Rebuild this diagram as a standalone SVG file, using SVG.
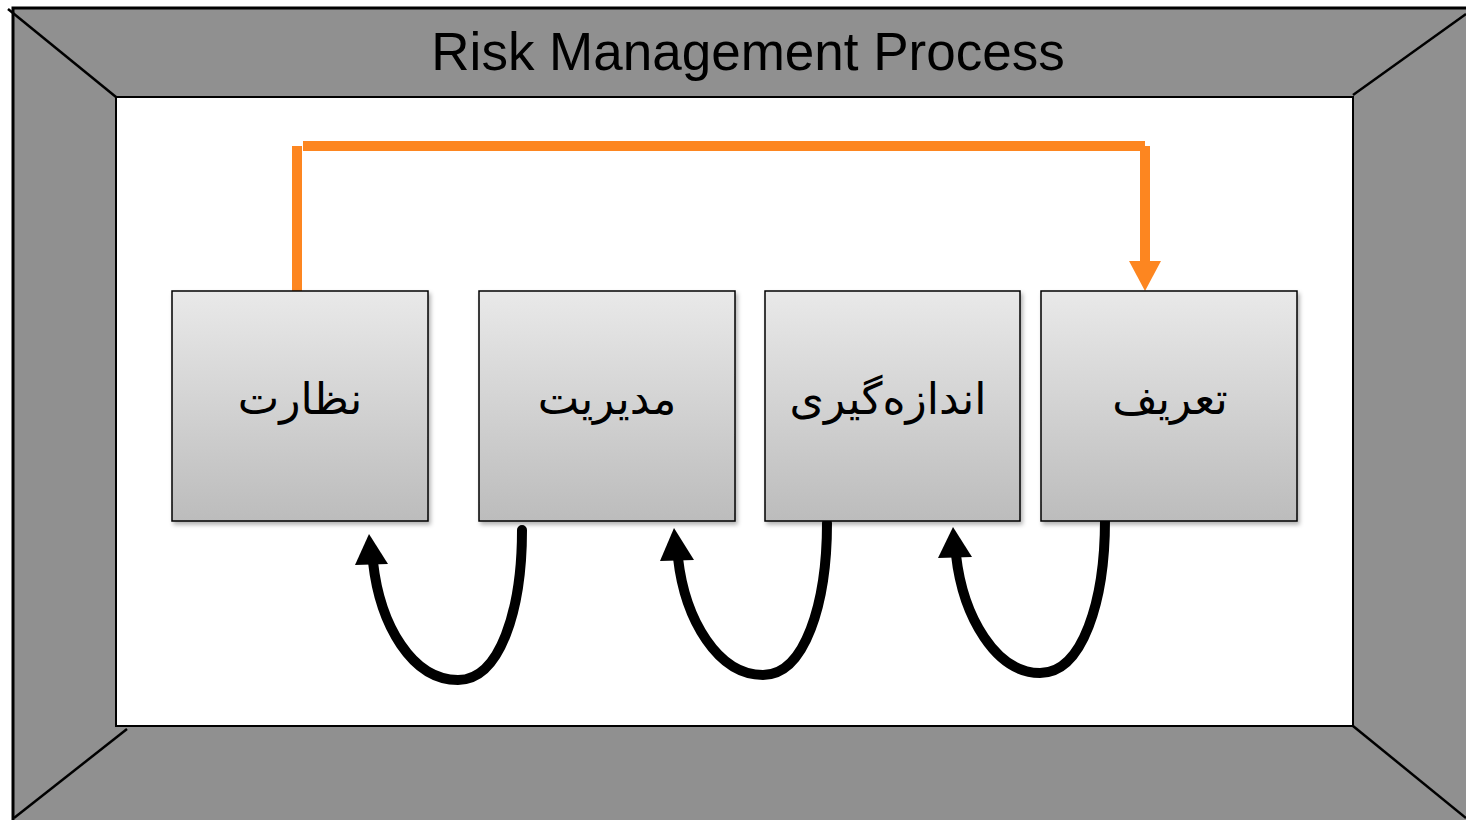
<svg xmlns="http://www.w3.org/2000/svg" width="1466" height="820" viewBox="0 0 1466 820">
  <defs>
    <linearGradient id="boxGrad" x1="0" y1="0" x2="0" y2="1">
      <stop offset="0" stop-color="#e9e9e9"/>
      <stop offset="1" stop-color="#bcbcbc"/>
    </linearGradient>
    <filter id="shadow" x="-10%" y="-10%" width="120%" height="120%">
      <feDropShadow dx="2" dy="3" stdDeviation="2" flood-color="#000" flood-opacity="0.3"/>
    </filter>
  </defs>
  <style>
    .frame { fill: #909090; stroke: #000; stroke-width: 3; }
    .inner { fill: #ffffff; stroke: #000; stroke-width: 2; }
    .diag { stroke: #000; stroke-width: 2.5; fill: none; }
    .box { fill: url(#boxGrad); stroke: #000; stroke-width: 1.5; filter: url(#shadow); }
    .title { font-family: "Liberation Sans", Arial, sans-serif; font-size: 53px; fill: #000; }
    .label { font-family: "DejaVu Sans", "Noto Sans", sans-serif; font-size: 44px; fill: #000; direction: rtl; }
    .orange { stroke: #fd8620; stroke-width: 10; fill: none; }
    .orangeHead { fill: #fd8620; }
    .curve { stroke: #000; stroke-width: 10; fill: none; stroke-linecap: round; }
    .head { fill: #000; }
  </style>

  <g id="frame">
    <rect class="frame" x="13" y="8" width="1470" height="830"/>
    <line class="diag" x1="8" y1="9" x2="116" y2="97"/>
    <line class="diag" x1="1466" y1="14" x2="1353" y2="95"/>
    <line class="diag" x1="127" y1="729" x2="14" y2="818"/>
    <line class="diag" x1="1353" y1="726" x2="1466" y2="818"/>
    <rect class="inner" x="116" y="97" width="1237" height="629"/>
    <text class="title" x="748" y="70" text-anchor="middle">Risk Management Process</text>
  </g>

  <g id="connectors">
    <line class="orange" x1="297" y1="146" x2="297" y2="291"/>
    <line class="orange" x1="303" y1="146" x2="1145" y2="146"/>
    <line class="orange" x1="1145" y1="146" x2="1145" y2="266"/>
    <polygon class="orangeHead" points="1129,261 1161,261 1145,291"/>

    <path class="curve" d="M522,530 C522,610 500,680 458,680 C412,680 380,625 373,562"/>
    <polygon class="head" points="369,534 355,565 388,564"/>

    <path class="curve" d="M827,523 C827,603 805,675 763,675 C718,675 685,620 678,558"/>
    <polygon class="head" points="674,528 660,561 694,560"/>

    <path class="curve" d="M1105,520 C1105,600 1083,673 1040,673 C996,673 963,617 956,555"/>
    <polygon class="head" points="953,527 938,558 972,557"/>
  </g>

  <g id="node-nezarat">
    <rect class="box" x="172" y="291" width="256" height="230"/>
    <text class="label" x="300" y="414" text-anchor="middle">نظارت</text>
  </g>
  <g id="node-modiriat">
    <rect class="box" x="479" y="291" width="256" height="230"/>
    <text class="label" x="607" y="414" text-anchor="middle">مدیریت</text>
  </g>
  <g id="node-andazegiri">
    <rect class="box" x="765" y="291" width="255" height="230"/>
    <text class="label" x="888" y="414" text-anchor="middle">اندازه‌گیری</text>
  </g>
  <g id="node-tarif">
    <rect class="box" x="1041" y="291" width="256" height="230"/>
    <text class="label" x="1170" y="414" text-anchor="middle">تعریف</text>
  </g>
</svg>
